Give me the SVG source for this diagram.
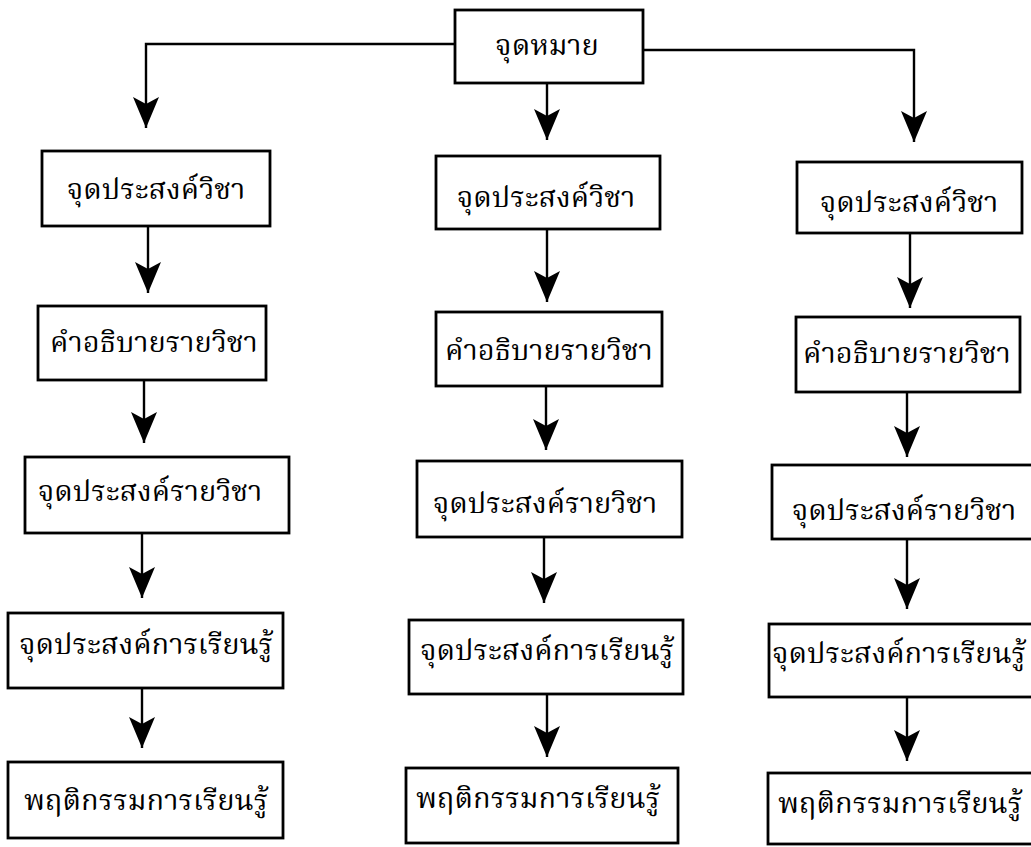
<svg xmlns="http://www.w3.org/2000/svg" width="1031" height="847" viewBox="0 0 1031 847">
<style>
.box{fill:#fff;stroke:#000;stroke-width:2.8}
.t{font-family:"Noto Serif Thai","Noto Sans Thai","Loma","Garuda","Noto Sans","DejaVu Sans",sans-serif;font-size:29px;fill:#000;text-anchor:middle}
.c{fill:none;stroke:#000;stroke-width:2.4}
</style>
<defs>
<marker id="ah" markerUnits="userSpaceOnUse" viewBox="-32 -14 34 28" refX="0" refY="0" markerWidth="34" markerHeight="28" orient="auto">
<path d="M0,0 L-31,-13 L-24,0 L-31,13 Z" fill="#000"/>
</marker>
</defs>
<rect width="1031" height="847" fill="#fff"/>
<g id="connectors">
<path class="c" d="M455,44 H146 V128" marker-end="url(#ah)"/>
<path class="c" d="M643,50 H914 V142" marker-end="url(#ah)"/>
<path class="c" d="M547,83 V140" marker-end="url(#ah)"/>
<path class="c" d="M148,226 V293" marker-end="url(#ah)"/>
<path class="c" d="M144,380 V443" marker-end="url(#ah)"/>
<path class="c" d="M142,533 V598" marker-end="url(#ah)"/>
<path class="c" d="M142,688 V748" marker-end="url(#ah)"/>
<path class="c" d="M547,229 V302" marker-end="url(#ah)"/>
<path class="c" d="M546,386 V450" marker-end="url(#ah)"/>
<path class="c" d="M544,537 V603" marker-end="url(#ah)"/>
<path class="c" d="M547,694 V757" marker-end="url(#ah)"/>
<path class="c" d="M910,233 V308" marker-end="url(#ah)"/>
<path class="c" d="M907,392 V457" marker-end="url(#ah)"/>
<path class="c" d="M907,539 V609" marker-end="url(#ah)"/>
<path class="c" d="M907,697 V761" marker-end="url(#ah)"/>
</g>
<g id="n0"><rect class="box" x="455" y="10" width="188" height="73"/><text class="t" x="547" y="55">จุดหมาย</text></g>
<g id="n1a"><rect class="box" x="42" y="151" width="228" height="75"/><text class="t" x="156" y="199">จุดประสงค์วิชา</text></g>
<g id="n1b"><rect class="box" x="38" y="306" width="228" height="74"/><text class="t" x="154" y="352">คำอธิบายรายวิชา</text></g>
<g id="n1c"><rect class="box" x="25" y="457" width="264" height="76"/><text class="t" x="150" y="501">จุดประสงค์รายวิชา</text></g>
<g id="n1d"><rect class="box" x="8" y="613" width="275" height="75"/><text class="t" x="146" y="654">จุดประสงค์การเรียนรู้</text></g>
<g id="n1e"><rect class="box" x="8" y="762" width="275" height="76"/><text class="t" x="146" y="810">พฤติกรรมการเรียนรู้</text></g>
<g id="n2a"><rect class="box" x="436" y="156" width="224" height="73"/><text class="t" x="546" y="207">จุดประสงค์วิชา</text></g>
<g id="n2b"><rect class="box" x="436" y="312" width="226" height="74"/><text class="t" x="549" y="360">คำอธิบายรายวิชา</text></g>
<g id="n2c"><rect class="box" x="417" y="461" width="265" height="76"/><text class="t" x="545" y="513">จุดประสงค์รายวิชา</text></g>
<g id="n2d"><rect class="box" x="409" y="620" width="274" height="74"/><text class="t" x="547" y="660">จุดประสงค์การเรียนรู้</text></g>
<g id="n2e"><rect class="box" x="406" y="768" width="272" height="75"/><text class="t" x="538" y="808">พฤติกรรมการเรียนรู้</text></g>
<g id="n3a"><rect class="box" x="797" y="162" width="225" height="71"/><text class="t" x="909" y="212">จุดประสงค์วิชา</text></g>
<g id="n3b"><rect class="box" x="796" y="317" width="224" height="75"/><text class="t" x="907" y="363">คำอธิบายรายวิชา</text></g>
<g id="n3c"><rect class="box" x="772" y="465" width="264" height="74"/><text class="t" x="904" y="520">จุดประสงค์รายวิชา</text></g>
<g id="n3d"><rect class="box" x="769" y="624" width="266" height="73"/><text class="t" x="899" y="663">จุดประสงค์การเรียนรู้</text></g>
<g id="n3e"><rect class="box" x="768" y="773" width="266" height="71"/><text class="t" x="900" y="813">พฤติกรรมการเรียนรู้</text></g>
</svg>
